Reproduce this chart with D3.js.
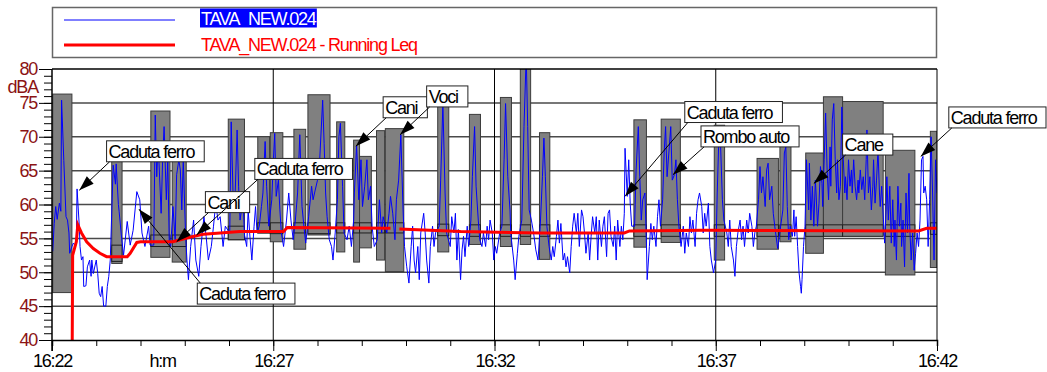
<!DOCTYPE html>
<html>
<head>
<meta charset="utf-8">
<script src="https://cdn.jsdelivr.net/npm/d3@7"></script>
<style>
  body { margin: 0; background: #fff; }
  svg text { font-family: "Liberation Sans", Arial, sans-serif; font-size: 18px; letter-spacing: -1.2px; }
</style>
</head>
<body>
<div id="chart-container"></div>
<script>
/**************************************************
 * Data (time in seconds from 16:22:00, level in dBA)
 **************************************************/

const blueSec = [1,3,5,7,10,12,13,16,19,21,23,24,27,29,31,33,34,37,38,40,42,43,46,48,51,53,54,56,60,62,64,66,68,70,73,75,77,79,
  83,86,87,90,91,94,96,97,102,106,110,115,119,122,126,131,133,138,140,142,144,148,150,152,155,157,159,161,164,167,169,172,174,176,178,181,183,185,188,192,195,199,
  202,206,209,212,216,219,222,225,228,232,235,241,243,246,248,251,253,255,259,261,264,266,268,271,274,276,278,281,284,286,289,291,294,298,300,302,304,307,309,311,314,318,321,324,327,330,333,336,339,342,344,348,
  352,354,356,360,363,367,369,371,373,376,379,381,384,387,389,391,394,396,400,403,406,409,410,413,416,419,421,424,427,429,432,434,437,441,444,447,449,454,457,459,462,465,467,470,473,476,478,481,484,487,489,491,493,496,498,
  500,504,506,508,511,513,516,518,520,525,527,530,533,535,540,542,545,547,549,551,554,556,558,560,563,565,568,570,573,575,578,580,583,585,588,590,592,594,597,599,
  601,603,607,610,613,615,618,621,622,626,628,631,633,637,640,643,645,647,650,653,656,659,662,665,667,669,671,674,677,679,681,684,686,688,690,693,695,697,699,
  702,704,706,708,711,713,715,718,720,722,724,727,729,731,733,736,738,740,742,745,747,749,752,754,756,758,761,763,765,767,770,772,774,776,777,780,782,784,786,790,792,795,797,799,
  801,804,806,807,810,812,814,816,819,821,823,825,828,830,832,834,837,839,841,844,846,848,850,853,856,858,860,863,865,867,869,872,874,876,878,881,883,885,887,890,892,894,897,
  900,902,904,906,909,911,915,917,919,921,924,926,928,930,933,935,937,939,942,944,946,949,951,953,955,958,960,962,964,967,969,971,973,976,978,980,983,984,988,991,993,995,997,999,
  1001,1004,1006,1007,1009,1011,1013,1015,1016,1017,1019,1021,1023,1026,1027,1029,1031,1033,1035,1036,1038,1040,1042,1044,1045,1047,1049,1051,1053,1055,1056,1058,1060,1062,1064,1065,1067,1069,1071,1073,1075,1076,1078,1080,1082,1084,1085,1087,1089,1091,1093,1094,1096,1098,
  1100,1102,1104,1105,1107,1109,1111,1113,1114,1116,1118,1120,1122,1123,1125,1129,1131,1132,1134,1136,1138,1140,1142,1143,1145,1147,1149,1151,1152,1154,1156,1158,1160,1162,1163,1165,1167,1169,1171,1173,1175,1177,1179,1181,1182,1184,1186,1188,1190,1192,1194,1196,1198,1200];

const blueDb = [53.1,57.2,59.7,57.8,60.2,59.0,75.4,66.5,58.2,57.7,55.8,52.8,53.8,54.3,54.0,54.8,62.3,56.8,53.8,51.8,52.3,47.9,48.0,50.8,51.8,49.4,51.8,49.8,51.8,49.8,46.9,46.4,47.9,45.0,45.0,47.9,49.4,51.8,
  65.8,63.0,66.0,60.0,59.0,55.5,53.5,52.5,57.5,54.0,56.2,61.9,60.7,55.8,53.8,56.8,54.0,54.0,73.2,64.1,69.0,58.7,66.6,71.5,60.7,66.6,54.3,53.8,59.7,54.8,64.4,66.6,65.1,59.2,66.6,55.8,51.8,48.9,53.8,57.7,51.8,49.4,
  53.8,58.2,55.3,51.8,53.8,56.8,60.2,57.7,58.2,53.8,56.8,55.8,72.2,59.2,60.2,71.0,62.7,57.7,60.7,55.5,53.8,59.2,55.8,51.8,56.8,59.7,55.8,56.8,59.7,61.7,69.3,62.7,56.8,60.7,66.1,70.5,61.2,63.6,59.2,55.8,53.8,57.7,61.7,57.7,54.8,57.7,61.7,70.3,59.7,56.3,54.3,58.2,
  62.7,60.7,61.7,63.6,66.6,75.4,69.0,61.7,58.2,54.8,53.8,51.8,55.8,60.7,70.0,72.0,62.7,55.8,54.8,56.8,53.8,57.7,61.7,68.7,60.7,66.6,59.7,62.7,66.6,60.7,62.7,56.8,53.8,54.8,60.7,55.8,58.2,55.8,58.7,61.2,58.7,54.8,60.7,63.6,70.3,59.2,53.8,50.8,48.4,53.8,56.8,51.8,49.9,53.8,48.9,
  55.8,58.7,55.8,51.8,48.4,53.8,56.8,53.8,55.8,56.8,63.6,74.9,61.7,55.8,53.8,58.2,55.8,58.7,51.8,56.3,48.9,53.3,55.3,52.3,56.8,53.8,57.7,64.1,71.5,62.7,57.7,54.8,53.8,55.8,53.8,56.8,54.8,57.7,55.8,51.8,
  53.8,52.8,55.8,56.8,66.6,74.9,64.1,59.2,55.8,51.8,48.9,52.8,55.3,57.7,71.5,82.0,71.5,59.2,57.7,55.8,53.3,51.8,56.8,64.1,69.8,64.1,56.8,53.8,51.8,53.8,52.3,55.3,57.7,54.3,57.2,51.8,52.8,50.8,52.3,
  49.9,53.8,56.8,58.7,55.8,58.7,53.8,59.2,58.2,55.8,52.8,55.8,51.8,55.3,58.2,55.8,58.2,51.8,57.7,53.8,56.8,58.2,52.3,58.7,59.2,55.3,53.8,56.8,51.8,57.7,53.8,56.8,54.8,58.7,68.3,61.2,66.6,60.2,56.8,56.8,65.1,71.5,64.1,57.7,
  60.7,61.7,54.3,48.9,53.8,57.2,54.8,56.8,53.8,58.2,60.7,56.8,60.7,67.6,71.5,64.1,68.5,71.5,63.6,64.4,66.6,60.7,56.8,53.8,56.8,52.8,55.8,53.8,58.2,55.8,57.7,53.8,58.7,60.7,61.7,59.7,55.8,58.7,56.8,60.2,53.8,51.8,49.9,
  51.8,61.7,69.0,70.5,60.7,57.7,55.8,53.8,57.7,53.8,51.8,49.4,53.8,55.8,57.7,54.8,56.8,53.8,57.7,55.8,58.7,56.8,53.8,55.8,56.8,60.7,65.6,61.7,64.1,59.7,65.1,66.1,60.7,62.7,58.7,56.8,54.3,53.5,56.8,59.2,67.6,68.5,59.7,54.8,
  56.8,55.3,59.2,55.3,58.2,53.8,49.9,47.9,46.9,48.9,53.8,56.8,66.6,59.2,66.1,57.7,62.7,56.8,63.6,61.7,56.8,60.2,65.6,63.1,59.7,66.6,73.5,65.1,60.7,68.5,62.7,72.5,74.9,66.6,61.7,66.6,60.7,62.7,74.4,66.6,61.7,64.1,60.7,66.6,62.7,65.1,61.7,66.6,62.7,60.7,63.6,61.7,65.1,62.2,
  64.1,60.7,66.6,71.0,61.7,64.1,59.2,62.7,66.6,60.2,63.6,68.0,61.7,59.7,62.7,54.3,59.2,64.1,57.7,62.7,54.3,60.7,53.8,57.7,51.8,62.7,56.8,60.2,53.8,57.7,50.8,61.7,55.8,64.6,56.8,51.8,55.8,50.3,52.8,55.8,53.8,57.7,66.6,67.1,61.7,62.7,60.7,53.8,60.7,70.0,61.7,51.8,66.6,61.7];

// Running Leq (null marks the short break in the trace)
const leqSec = [27, 28, 30, 33, 35, 40, 47, 56, 65, 74, 102, 106, 115, 120, 164, 174, 188, 205, 228, 255, 314, 319, 459, 465, 471, 554, 663, 776, 783, 883, 1175, 1186, 1200];
const leqDb  = [30, 52.5, 53.3, 54.5, 57.0, 55.8, 54.5, 53.5, 52.8, 52.3, 52.3, 52.8, 54.4, 54.5, 54.5, 54.8, 55.2, 55.6, 55.8, 56.0, 56.0, 56.6, 56.5, null, 56.4, 56.0, 55.8, 55.8, 56.1, 56.2, 56.1, 56.5, 56.5];

// Marked events: span, max / min level, and the event Leq band
const evStart = [1, 81, 134, 163, 239, 279, 296, 328, 347, 386, 409, 417, 440, 452, 523, 566, 608, 635, 661, 789, 826, 898, 956, 987, 1022, 1046, 1072, 1130, 1191];
const evEnd   = [27, 95, 160, 182, 261, 295, 313, 344, 377, 397, 417, 433, 451, 477, 538, 581, 623, 649, 675, 806, 852, 912, 985, 1002, 1046, 1072, 1127, 1170, 1200];
const evMax   = [76.3, 66.6, 73.8, 66.5, 72.6, 70.0, 70.6, 71.1, 76.2, 72.2, 69.5, 67.1, 70.9, 71.2, 74.6, 73.3, 75.8, 81.0, 70.6, 72.5, 72.6, 71.7, 66.8, 69.0, 67.6, 75.9, 75.2, 68.0, 70.8];
const evMin   = [47.0, 51.3, 52.2, 51.5, 54.8, 55.8, 54.5, 53.4, 55.5, 53.0, 51.5, 53.6, 51.8, 50.1, 53.0, 54.1, 53.8, 54.1, 51.9, 53.7, 54.4, 51.8, 53.4, 54.5, 52.8, 55.8, 55.5, 49.6, 50.7];
const bandHi  = [null, 54.0, 55.5, 55.5, 56.8, 57.3, 57.3, 57.3, 57.3, 57.3, 57.3, 57.3, 57.3, 57.3, 57.1, 57.0, 57.0, 57.0, 57.0, 57.0, 57.0, 57.0, 57.0, 57.0, 57.0, 57.0, 57.0, 57.0, 57.3];
const bandLo  = [null, 51.6, 53.8, 53.8, 54.8, 55.8, 55.7, 55.8, 55.7, 55.8, 55.8, 55.8, 55.8, 55.8, 55.4, 55.3, 55.3, 55.3, 55.3, 55.3, 55.3, 55.3, 55.3, 55.3, 55.3, 55.3, 55.3, 55.3, 55.6];

// Annotations: text, arrow target, label box top-left
const noteText   = ["Caduta ferro", "Caduta ferro", "Cani", "Caduta ferro", "Cani", "Voci", "Caduta ferro", "Rombo auto", "Cane", "Caduta ferro"];
const noteSec    = [37, 118, 169, 196, 412, 472, 777, 842, 1033, 1178];
const noteDb     = [62.1, 59.3, 54.5, 55.5, 68.6, 70.3, 61.2, 64.4, 63.1, 67.1];
const noteBoxSec = [74, 197, 208, 275, 449, 508, 858, 880, 1072, 1216];
const noteBoxDb  = [69.4, 48.4, 61.9, 66.8, 75.9, 77.5, 75.2, 71.6, 70.4, 74.4];

const yMajor = [40, 45, 50, 55, 60, 65, 70, 75, 80];
const xMajorSec = [0, 300, 600, 900, 1200];
const xMajorLabels = ["16:22", "16:27", "16:32", "16:37", "16:42"];

const legendNames = ["TAVA_NEW.024", "TAVA_NEW.024 - Running Leq"];

/**************************************************
 * Rendering
 **************************************************/

function renderChart() {
  const svg = d3.select("#chart-container")
    .append("svg")
    .attr("width", 1047)
    .attr("height", 372);

  const x = d3.scaleLinear().domain([0, 1200]).range([52, 937]);
  const y = d3.scaleLinear().domain([40, 80]).range([340, 69]);

  svg.append("defs").append("clipPath")
    .attr("id", "plot-clip")
    .append("rect")
    .attr("x", x(0)).attr("y", y(80))
    .attr("width", x(1200) - x(0)).attr("height", y(40) - y(80));

  // legend
  svg.append("rect")
    .attr("x", 52.5).attr("y", 7.5)
    .attr("width", 884).attr("height", 50)
    .attr("fill", "#fff")
    .attr("stroke", "#666")
    .attr("stroke-width", 1.5);

  svg.append("line")
    .attr("x1", 64).attr("x2", 175).attr("y1", 20).attr("y2", 20)
    .attr("stroke", "#0000ff").attr("stroke-width", 1);
  svg.append("line")
    .attr("x1", 64).attr("x2", 175).attr("y1", 45).attr("y2", 45)
    .attr("stroke", "#ff0000").attr("stroke-width", 3);

  const leg1 = svg.append("text")
    .attr("x", 201).attr("y", 25)
    .attr("fill", "#fff")
    .text(legendNames[0]);
  const bb = leg1.node().getBBox();
  svg.insert("rect", "text")
    .attr("x", bb.x - 1).attr("y", 8.5)
    .attr("width", bb.width + 1).attr("height", 19)
    .attr("fill", "#0000ff");

  svg.append("text")
    .attr("x", 201).attr("y", 51)
    .attr("fill", "#ff0000")
    .text(legendNames[1]);

  // horizontal grid
  svg.append("g")
    .selectAll("line")
    .data(yMajor.slice(1, -1))
    .join("line")
    .attr("x1", x(0)).attr("x2", x(1200))
    .attr("y1", d => y(d)).attr("y2", d => y(d))
    .attr("stroke", "#4a4a4a")
    .attr("stroke-width", 1.5);

  // vertical grid
  svg.append("g")
    .selectAll("line")
    .data(xMajorSec.slice(1, -1))
    .join("line")
    .attr("x1", d => x(d)).attr("x2", d => x(d))
    .attr("y1", y(80)).attr("y2", y(40))
    .attr("stroke", "#000")
    .attr("stroke-width", 1);

  const plot = svg.append("g").attr("clip-path", "url(#plot-clip)");

  // event boxes
  evStart.forEach((s, i) => {
    plot.append("rect")
      .attr("x", x(s)).attr("y", y(evMax[i]))
      .attr("width", x(evEnd[i]) - x(s))
      .attr("height", y(evMin[i]) - y(evMax[i]))
      .attr("fill", "#808080")
      .attr("stroke", "#3c3c3c")
      .attr("stroke-width", 1);
    if (bandHi[i] != null) {
      plot.append("rect")
        .attr("x", x(s)).attr("y", y(bandHi[i]))
        .attr("width", x(evEnd[i]) - x(s))
        .attr("height", y(bandLo[i]) - y(bandHi[i]))
        .attr("fill", "#808080")
        .attr("stroke", "#1e1e1e")
        .attr("stroke-width", 1);
    }
  });

  // level trace
  const blue = blueSec.map((t, i) => ({ t: t, v: blueDb[i] }));
  plot.append("path")
    .datum(blue)
    .attr("fill", "none")
    .attr("stroke", "#0000ff")
    .attr("stroke-width", 1)
    .attr("d", d3.line().x(d => x(d.t)).y(d => y(d.v)));

  // running Leq
  const leq = leqSec.map((t, i) => ({ t: t, v: leqDb[i] }));
  plot.append("path")
    .datum(leq)
    .attr("fill", "none")
    .attr("stroke", "#ff0000")
    .attr("stroke-width", 3)
    .attr("d", d3.line().defined(d => d.v != null).x(d => x(d.t)).y(d => y(d.v)));

  // frame
  svg.append("line")
    .attr("x1", x(0)).attr("x2", x(1200)).attr("y1", y(80)).attr("y2", y(80))
    .attr("stroke", "#000").attr("stroke-width", 1.5);
  svg.append("line")
    .attr("x1", x(1200)).attr("x2", x(1200)).attr("y1", y(80)).attr("y2", y(40))
    .attr("stroke", "#000").attr("stroke-width", 1);

  // y axis
  svg.append("g")
    .attr("transform", `translate(${x(0)},0)`)
    .call(d3.axisLeft(y).tickValues(d3.range(40, 81)).tickSize(8).tickFormat(""))
    .call(g => g.select(".domain").remove());
  svg.append("g")
    .attr("transform", `translate(${x(0)},0)`)
    .call(d3.axisLeft(y).tickValues(yMajor).tickSize(13).tickPadding(2).tickFormat(d3.format("d")))
    .call(g => g.select(".domain").remove())
    .call(g => g.selectAll("text")
      .attr("fill", "#8b1414")
      .attr("font-size", null)
      .attr("font-family", null));
  svg.selectAll(".tick line").attr("stroke", "#000");
  svg.append("line")
    .attr("x1", x(0)).attr("x2", x(0)).attr("y1", y(80)).attr("y2", y(40) + 11)
    .attr("stroke", "#000").attr("stroke-width", 1.5);
  svg.append("text")
    .attr("x", 38).attr("y", 93)
    .attr("text-anchor", "end")
    .attr("fill", "#8b1414")
    .text("dBA");

  // x axis
  svg.append("g")
    .attr("transform", `translate(0,${y(40)})`)
    .call(d3.axisBottom(x).tickValues(d3.range(0, 1201, 60)).tickSize(6).tickFormat(""))
    .call(g => g.select(".domain").attr("stroke", "#000").attr("stroke-width", 1.5));
  svg.append("g")
    .attr("transform", `translate(0,${y(40)})`)
    .call(d3.axisBottom(x).tickValues(xMajorSec).tickSize(11).tickPadding(3)
      .tickFormat((d, i) => xMajorLabels[i]))
    .call(g => g.select(".domain").remove())
    .call(g => g.selectAll("text")
      .attr("fill", "#000")
      .attr("font-size", null)
      .attr("font-family", null));
  svg.selectAll(".tick line").attr("stroke", "#000");
  svg.append("text")
    .attr("x", x(150)).attr("y", 367)
    .attr("text-anchor", "middle")
    .attr("fill", "#000")
    .text("h:m");

  // annotations
  noteText.forEach((txt, i) => {
    const bx = x(noteBoxSec[i]);
    const by = y(noteBoxDb[i]);
    const tx = x(noteSec[i]);
    const ty = y(noteDb[i]);
    const g = svg.append("g");
    const box = g.append("rect");
    const label = g.append("text")
      .attr("x", bx + 2).attr("y", by + 17)
      .attr("fill", "#000")
      .text(txt);
    const w = Math.min(label.node().getComputedTextLength() + 12, 1046 - bx);
    const h = 21;
    box.attr("x", bx).attr("y", by)
      .attr("width", w).attr("height", h)
      .attr("fill", "#fff")
      .attr("stroke", "#222")
      .attr("stroke-width", 1);

    const sx = bx + 3;
    const sy = ty < by ? by : by + h;
    g.append("line")
      .attr("x1", sx).attr("y1", sy)
      .attr("x2", tx).attr("y2", ty)
      .attr("stroke", "#000").attr("stroke-width", 1);
    const ang = Math.atan2(ty - sy, tx - sx);
    const len = 15, half = 5;
    const bxp = tx - len * Math.cos(ang), byp = ty - len * Math.sin(ang);
    const px = -Math.sin(ang) * half, py = Math.cos(ang) * half;
    g.append("polygon")
      .attr("points", `${tx},${ty} ${bxp + px},${byp + py} ${bxp - px},${byp - py}`)
      .attr("fill", "#000");
  });
}

renderChart();
</script>
</body>
</html>
